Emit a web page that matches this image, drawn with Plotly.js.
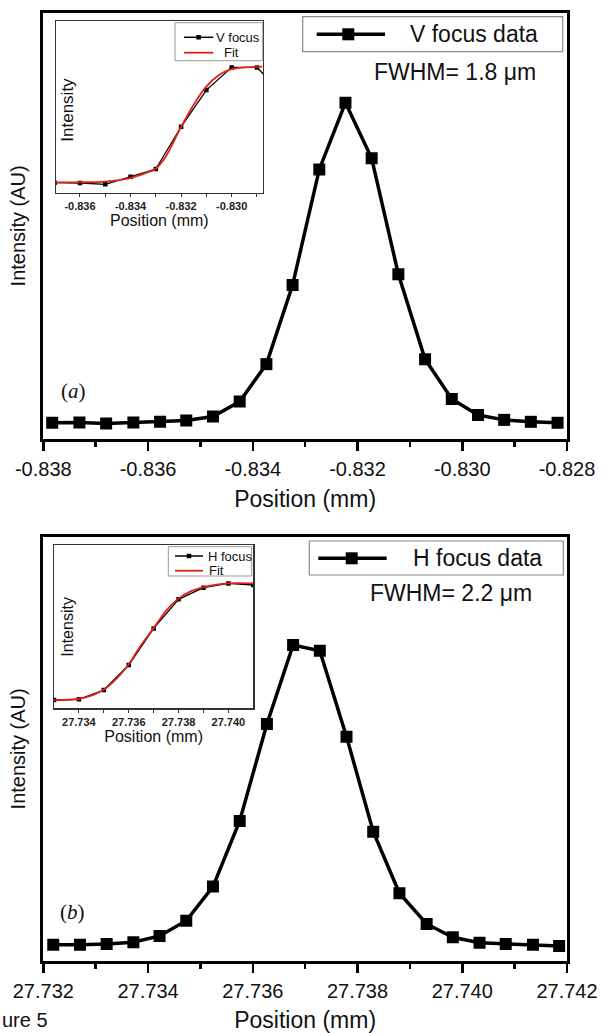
<!DOCTYPE html>
<html>
<head>
<meta charset="utf-8">
<script src="https://cdn.plot.ly/plotly-3.0.1.min.js"></script>
<style>html,body{margin:0;padding:0;background:#fff;}#chart{width:602px;height:1033px;}</style>
</head>
<body>
<div id="chart"></div>
<script>
// ---------- data ----------
// (a) vertical focus scan, main panel
const vPosition = [-0.83783, -0.83731, -0.83680, -0.83628, -0.83577, -0.83527, -0.83476, -0.83425, -0.83374, -0.83324,
                   -0.83273, -0.83223, -0.83173, -0.83122, -0.83071, -0.83020, -0.82970, -0.82920, -0.82869, -0.82818];
const vIntensity = [0.017, 0.018, 0.015, 0.018, 0.020, 0.024, 0.036, 0.082, 0.197, 0.440,
                    0.795, 1.000, 0.829, 0.473, 0.212, 0.090, 0.041, 0.026, 0.020, 0.017];
// (a) inset: knife-edge scan and fit
const vEdgePos = [-0.837, -0.836, -0.835, -0.834, -0.833, -0.832, -0.831, -0.830, -0.829, -0.828];
const vEdgeInt = [0.000, -0.003, -0.014, 0.052, 0.118, 0.485, 0.803, 1.000, 1.000, 0.770];
const vFitPos = [-0.83699, -0.83600, -0.83500, -0.83401, -0.83326, -0.83303, -0.83261, -0.83203, -0.83155, -0.83103, -0.83050, -0.83003, -0.82945, -0.82879];
const vFitInt = [0.003, 0.003, 0.009, 0.040, 0.095, 0.116, 0.225, 0.471, 0.659, 0.827, 0.934, 0.983, 1.000, 1.006];

// (b) horizontal focus scan, main panel
const hPosition = [27.73219, 27.73270, 27.73321, 27.73372, 27.73422, 27.73473, 27.73524, 27.73575, 27.73627, 27.73677,
                   27.73728, 27.73779, 27.73830, 27.73880, 27.73932, 27.73982, 27.74033, 27.74083, 27.74135, 27.74185];
const hIntensity = [0.054, 0.054, 0.057, 0.062, 0.082, 0.130, 0.238, 0.445, 0.751, 1.000,
                    0.982, 0.711, 0.411, 0.217, 0.120, 0.078, 0.061, 0.057, 0.054, 0.050];
// (b) inset
const hEdgePos = [27.733, 27.734, 27.735, 27.736, 27.737, 27.738, 27.739, 27.740, 27.741];
const hEdgeInt = [0.000, 0.006, 0.086, 0.300, 0.614, 0.863, 0.963, 1.000, 0.986];
const hFitPos = [27.73300, 27.73400, 27.73444, 27.73498, 27.73552, 27.73598, 27.73645, 27.73699, 27.73752, 27.73796, 27.73846, 27.73898, 27.73953, 27.74000, 27.74046, 27.74100];
const hFitInt = [-0.003, 0.011, 0.034, 0.086, 0.186, 0.300, 0.457, 0.614, 0.771, 0.863, 0.929, 0.966, 0.989, 1.000, 1.003, 1.000];

// tick labels
const vMainTicks = [-0.838, -0.836, -0.834, -0.832, -0.830, -0.828];
const vMainTickText = ["-0.838", "-0.836", "-0.834", "-0.832", "-0.830", "-0.828"];
const vMainMinor = [-0.837, -0.835, -0.833, -0.831, -0.829];
const hMainTicks = [27.732, 27.734, 27.736, 27.738, 27.740, 27.742];
const hMainTickText = ["27.732", "27.734", "27.736", "27.738", "27.740", "27.742"];
const hMainMinor = [27.733, 27.735, 27.737, 27.739, 27.741];
const vInsetTicks = [-0.836, -0.834, -0.832, -0.830];
const vInsetTickText = ["-0.836", "-0.834", "-0.832", "-0.830"];
const vInsetMinor = [-0.835, -0.833, -0.831, -0.829];
const hInsetTicks = [27.734, 27.736, 27.738, 27.740];
const hInsetTickText = ["27.734", "27.736", "27.738", "27.740"];
const hInsetMinor = [27.735, 27.737, 27.739];

// text
const mainSeriesNames = ["V focus data", "H focus data"];
const insetSeriesNames = ["V focus", "H focus", "Fit"];
const fwhmLabels = ["FWHM= 1.8 \u03BCm", "FWHM= 2.2 \u03BCm"];
const panelLabels = ["(<i>a</i>)", "(<i>b</i>)"];
const xTitle = "Position (mm)";
const yTitleMain = "Intensity (AU)";
const yTitleInset = "Intensity";
const captionFragment = "ure 5";

// ---------- layout helpers (pixel -> paper) ----------
const W = 602, H = 1033;
const px = v => v / W;
const py = v => 1 - v / H;
const SANS = "Liberation Sans, Arial, sans-serif";
const SERIF = "Liberation Serif, Times New Roman, serif";

function mainX(range, tv, tt, minor, anchor) {
  return {
    domain: [px(43.3), px(567)], range: range, anchor: anchor,
    showline: true, linewidth: 3, linecolor: "#000", mirror: true,
    showgrid: false, zeroline: false,
    ticks: "outside", ticklen: 9, tickwidth: 2.5, tickcolor: "#000",
    tickmode: "array", tickvals: tv, ticktext: tt,
    ticklabelstandoff: 1,
    minor: {tickmode: "array", tickvals: minor, ticks: "outside", ticklen: 5, tickwidth: 2.5, tickcolor: "#000", showgrid: false},
    tickfont: {family: SANS, size: 20, color: "#111"},
    title: {text: xTitle, font: {family: SANS, size: 23, color: "#111"}, standoff: 12},
    automargin: false
  };
}
function mainY(domainPx, range, anchor) {
  return {
    domain: [py(domainPx[1]), py(domainPx[0])], range: range, anchor: anchor,
    showline: true, linewidth: 3, linecolor: "#000", mirror: true,
    showgrid: false, zeroline: false, showticklabels: false, ticks: "",
    title: {text: yTitleMain, font: {family: SANS, size: 20, color: "#111"}, standoff: 10},
    automargin: false
  };
}
function insetX(domainPx, range, tv, tt, minor, anchor) {
  return {
    domain: [px(domainPx[0]), px(domainPx[1])], range: range, anchor: anchor,
    showline: true, linewidth: 1.2, linecolor: "#333", mirror: true,
    showgrid: false, zeroline: false,
    ticks: "outside", ticklen: 3, tickwidth: 1, tickcolor: "#333",
    tickmode: "array", tickvals: tv, ticktext: tt,
    minor: {tickmode: "array", tickvals: minor, ticks: "outside", ticklen: 3, tickwidth: 1, tickcolor: "#333", showgrid: false},
    tickfont: {family: SANS, size: 11, color: "#222", weight: "bold"},
    title: {text: xTitle, font: {family: SANS, size: 16, color: "#111"}, standoff: 2},
    automargin: false
  };
}
function insetY(domainPx, range, anchor) {
  return {
    domain: [py(domainPx[1]), py(domainPx[0])], range: range, anchor: anchor,
    showline: true, linewidth: 1.2, linecolor: "#333", mirror: true,
    showgrid: false, zeroline: false, showticklabels: false, ticks: "",
    automargin: false
  };
}

// ---------- traces ----------
const traces = [
  {x: vPosition, y: vIntensity, xaxis: "x", yaxis: "y", type: "scatter", mode: "lines+markers",
   name: mainSeriesNames[0], line: {color: "#000", width: 3.5}, marker: {symbol: "square", size: 12, color: "#000"}},
  {x: hPosition, y: hIntensity, xaxis: "x2", yaxis: "y2", type: "scatter", mode: "lines+markers",
   name: mainSeriesNames[1], line: {color: "#000", width: 3.5}, marker: {symbol: "square", size: 12, color: "#000"}},
  {x: vEdgePos, y: vEdgeInt, xaxis: "x3", yaxis: "y3", type: "scatter", mode: "lines+markers",
   name: insetSeriesNames[0], line: {color: "#000", width: 1.3}, marker: {symbol: "square", size: 4.5, color: "#000"}, cliponaxis: true},
  {x: vFitPos, y: vFitInt, xaxis: "x3", yaxis: "y3", type: "scatter", mode: "lines",
   name: insetSeriesNames[2], line: {color: "#e0201c", width: 1.8, shape: "spline"}},
  {x: hEdgePos, y: hEdgeInt, xaxis: "x4", yaxis: "y4", type: "scatter", mode: "lines+markers",
   name: insetSeriesNames[1], line: {color: "#000", width: 1.3}, marker: {symbol: "square", size: 4.5, color: "#000"}, cliponaxis: true},
  {x: hFitPos, y: hFitInt, xaxis: "x4", yaxis: "y4", type: "scatter", mode: "lines",
   name: insetSeriesNames[2], line: {color: "#e0201c", width: 1.8, shape: "spline"}}
];

// ---------- hand-drawn legends ----------
const shapes = [];
const annotations = [];
function box(x0, x1, y0, y1, w, col) {
  shapes.push({type: "rect", xref: "paper", yref: "paper", x0: px(x0), x1: px(x1), y0: py(y1), y1: py(y0),
               line: {color: col, width: w}, fillcolor: "#fff", layer: "above"});
}
function seg(x0, x1, y, w, col) {
  shapes.push({type: "line", xref: "paper", yref: "paper", x0: px(x0), x1: px(x1), y0: py(y), y1: py(y),
               line: {color: col, width: w}, layer: "above"});
}
function sq(cx, cy, s) {
  shapes.push({type: "rect", xref: "paper", yref: "paper", x0: px(cx - s / 2), x1: px(cx + s / 2), y0: py(cy + s / 2), y1: py(cy - s / 2),
               line: {width: 0}, fillcolor: "#000", layer: "above"});
}
function txt(t, x, y, size, anchor, extra) {
  annotations.push(Object.assign({text: t, xref: "paper", yref: "paper", x: px(x), y: py(y), xanchor: anchor, yanchor: "middle",
    showarrow: false, font: {family: SANS, size: size, color: "#111"}}, extra || {}));
}

// (a) main legend
box(302.7, 562.7, 16.7, 51.7, 1.2, "#8a8a8a");
seg(316.7, 385, 34.3, 3.5, "#000"); sq(348.3, 34.3, 12);
txt(mainSeriesNames[0], 408.3, 34.3, 23, "left");
txt(fwhmLabels[0], 455, 71.7, 23, "center");
// (b) main legend
box(309.3, 563.3, 541, 575, 1.2, "#8a8a8a");
seg(318.3, 386.7, 558.3, 3.5, "#000"); sq(351.7, 558.3, 12);
txt(mainSeriesNames[1], 410.7, 558.3, 23, "left");
txt(fwhmLabels[1], 451, 593, 23, "center");
// (a) inset legend
box(175, 262.7, 22.7, 60.7, 1, "#9a9a9a");
seg(184, 213.3, 37.3, 1.5, "#000"); sq(198.6, 37.3, 4.5);
txt(insetSeriesNames[0], 214.5, 37.3, 13, "left");
seg(184, 213.3, 52.7, 1.8, "#e0201c");
txt(insetSeriesNames[2], 221.5, 52.7, 13, "left");
// (b) inset legend
box(168.3, 251.7, 546.7, 576, 1, "#9a9a9a");
seg(175, 203, 556, 1.5, "#000"); sq(189, 556, 4.5);
txt(insetSeriesNames[1], 205.5, 556, 13, "left");
seg(175, 203, 570.7, 1.8, "#e0201c");
txt(insetSeriesNames[2], 206.5, 570.7, 13, "left");

// inset y titles (drawn inside the inset frames)
txt(yTitleInset, 66.7, 110, 17, "center", {textangle: -90});
txt(yTitleInset, 66.7, 627, 16, "center", {textangle: -90});
// panel labels
txt(panelLabels[0], 73, 391, 21, "center", {font: {family: SERIF, size: 21, color: "#111"}});
txt(panelLabels[1], 72, 912, 21, "center", {font: {family: SERIF, size: 21, color: "#111"}});
// cropped caption fragment at the bottom-left
annotations.push({text: captionFragment, xref: "paper", yref: "paper", x: px(0), y: py(1033), xanchor: "left", yanchor: "bottom",
  showarrow: false, font: {family: SANS, size: 20, color: "#111"}});

const layout = {
  width: W, height: H,
  margin: {l: 0, r: 0, t: 0, b: 0, pad: 0},
  paper_bgcolor: "#fff", plot_bgcolor: "#fff",
  showlegend: false,
  xaxis: mainX([-0.838, -0.828], vMainTicks, vMainTickText, vMainMinor, "y"),
  yaxis: mainY([12.7, 439], [-0.0328, 1.2762], "x"),
  xaxis2: mainX([27.732, 27.742], hMainTicks, hMainTickText, hMainMinor, "y2"),
  yaxis2: mainY([537, 960.7], [0.004, 1.341], "x2"),
  xaxis3: insetX([55.7, 263], [-0.83696, -0.82876], vInsetTicks, vInsetTickText, vInsetMinor, "y3"),
  yaxis3: insetY([20.7, 192.7], [-0.087, 1.405], "x3"),
  xaxis4: insetX([54, 253.3], [27.733, 27.741], hInsetTicks, hInsetTickText, hInsetMinor, "y4"),
  yaxis4: insetY([545, 708.3], [-0.071, 1.329], "x4"),
  shapes: shapes,
  annotations: annotations
};

Plotly.newPlot("chart", traces, layout, {displayModeBar: false, staticPlot: true});
</script>
</body>
</html>
